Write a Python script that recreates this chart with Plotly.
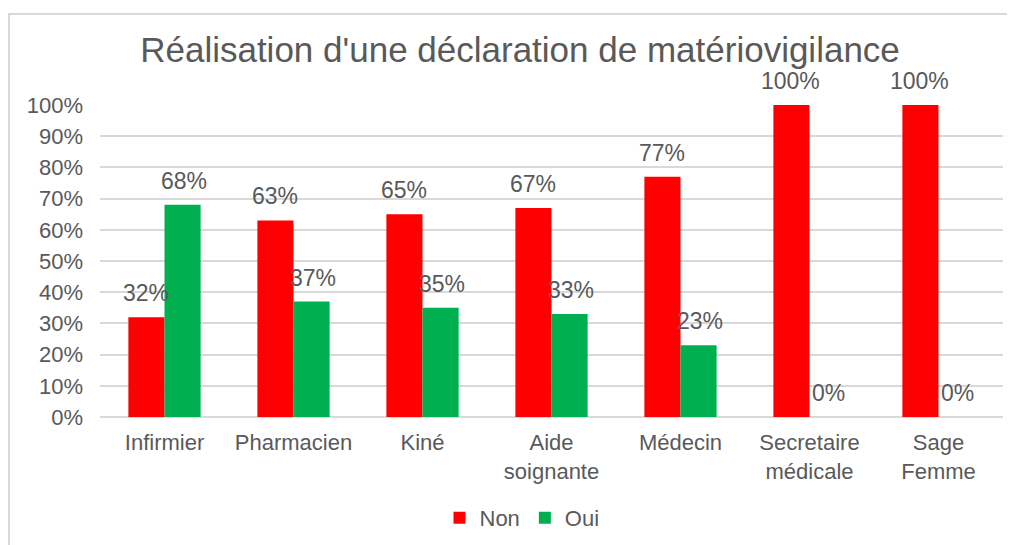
import plotly.graph_objects as go

categories = ["Infirmier", "Pharmacien", "Kiné", "Aide<br>soignante", "Médecin",
              "Secretaire<br>médicale", "Sage<br>Femme"]
non_values = [0.32, 0.63, 0.65, 0.67, 0.77, 1.00, 1.00]
oui_values = [0.68, 0.37, 0.35, 0.33, 0.23, 0.00, 0.00]
y_ticks = [0, 0.1, 0.2, 0.3, 0.4, 0.5, 0.6, 0.7, 0.8, 0.9, 1.0]

FONT = "Liberation Sans, Arial, sans-serif"
GREY = "#595959"
RED = "#FF0000"
GREEN = "#00B050"

fig = go.Figure()
fig.add_trace(go.Bar(name="Non", x=categories, y=non_values, marker_color=RED,
                     marker_line_width=0))
fig.add_trace(go.Bar(name="Oui", x=categories, y=oui_values, marker_color=GREEN,
                     marker_line_width=0))

# page is shown with an 8px body margin, so positions are offset by 8
W, H = 1015, 545
L, R, T, B = 92, 20, 97, 136
pw, ph = W - L - R, H - T - B

def px(x):
    return (x - L) / pw

def py(y):
    return (H - B - y) / ph

annotations = []
for cat, v in zip(categories, non_values):
    annotations.append(dict(x=cat, y=v, xref="x", yref="y", text=f"{round(v * 100)}%",
                            showarrow=False, xshift=-19, yshift=24, yanchor="middle",
                            font=dict(size=23, color=GREY, family=FONT)))
for cat, v in zip(categories, oui_values):
    annotations.append(dict(x=cat, y=v, xref="x", yref="y", text=f"{round(v * 100)}%",
                            showarrow=False, xshift=19, yshift=24, yanchor="middle",
                            font=dict(size=23, color=GREY, family=FONT)))

fig.update_layout(
    width=W, height=H,
    margin=dict(l=L, r=R, t=T, b=B, autoexpand=False),
    paper_bgcolor="white", plot_bgcolor="white",
    barmode="group", bargap=0.44, bargroupgap=0,
    font=dict(family=FONT, color=GREY, size=22),
    title=dict(text="Réalisation d'une déclaration de matériovigilance",
               x=(520 - 8) / W, xanchor="center", y=1 - 42 / H, yanchor="middle",
               font=dict(size=35, color=GREY, family=FONT)),
    xaxis=dict(showgrid=False, showline=False, ticks="", tickfont=dict(size=22, color=GREY),
               ticklabelstandoff=10),
    yaxis=dict(range=[0, 1], tickvals=y_ticks, tickformat=".0%", showgrid=True,
               gridcolor="#D9D9D9", gridwidth=1.5, zeroline=True, zerolinecolor="#D9D9D9",
               zerolinewidth=1.5, tickfont=dict(size=22, color=GREY), ticks="", ticklabelstandoff=16),
    legend=dict(orientation="h", xref="container", x=(522 - 8) / W, xanchor="center",
                yref="container", y=1 - 510 / H, yanchor="middle",
                font=dict(size=22, color=GREY), itemwidth=30, traceorder="normal"),
    showlegend=True,
    annotations=annotations,
    shapes=[dict(type="rect", xref="paper", yref="paper",
                 x0=px(1), x1=px(1030), y0=py(560), y1=py(6),
                 line=dict(color="#D9D9D9", width=2), fillcolor="rgba(0,0,0,0)", layer="below")],
)

fig.write_html("out.html")
